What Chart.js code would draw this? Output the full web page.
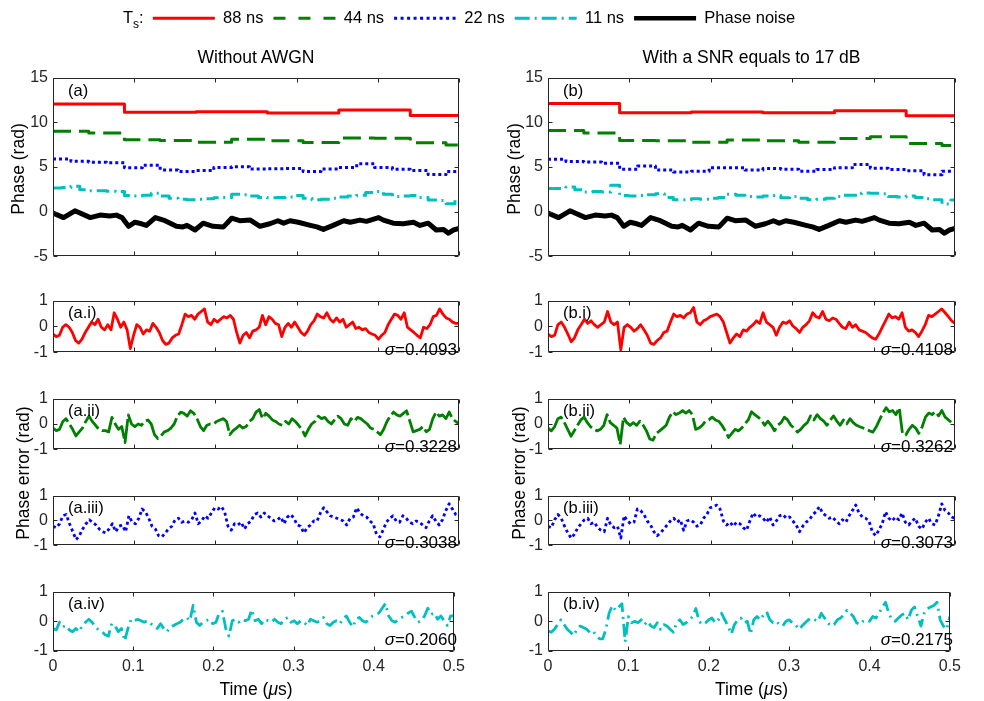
<!DOCTYPE html>
<html><head><meta charset="utf-8">
<script src="https://cdn.jsdelivr.net/npm/chart.js"></script>
<style>
html,body{margin:0;padding:0;background:#fff}
#fig{position:relative;width:984px;height:701px;overflow:hidden;font-family:'Liberation Sans',Arial,sans-serif;color:#262626}
#fig canvas{position:absolute}
.t{position:absolute;white-space:nowrap;line-height:1}
.c{transform:translate(-50%,-50%)}
.rot{transform:translate(-50%,-50%) rotate(-90deg)}
</style></head><body><div id="fig"></div>
<script>
// ---------------- DATA ----------------
const symbolPeriods = [0.088, 0.044, 0.022, 0.011]; // µs  (88, 44, 22, 11 ns)
const legendLabels = ['88 ns', '44 ns', '22 ns', '11 ns', 'Phase noise'];
const xTicksStep = 0.1;

// (a) / (b) staircase estimates, one value per symbol period
const redA = [12.05, 11.12, 11.17, 11.05, 11.37, 10.75];
const redB = [12.1, 11.07, 11.14, 11.07, 11.3, 10.72];
const greenA = [9.0, 8.8, 8.04, 7.97, 7.77, 8.11, 7.94, 7.73, 8.25, 8.22, 7.7, 7.45];
const greenB = [9.07, 8.79, 7.97, 7.93, 7.76, 8.03, 7.93, 7.76, 8.2, 8.38, 7.62, 7.41];
const blueA = [5.89,5.64,5.54,5.47,4.91,5.19,4.67,4.5,4.6,4.95,5.02,4.77,4.81,4.84,4.5,4.77,4.95,5.37,4.95,4.74,4.6,4.15,4.5];
const blueB = [5.86,5.62,5.55,5.41,4.76,5.1,4.66,4.45,4.52,4.93,4.93,4.66,4.83,4.76,4.52,4.72,4.93,5.28,4.86,4.72,4.59,4.14,4.52];
const cyanA = [2.65,2.7,2.85,2.45,2.35,2.35,2.3,2.25,1.8,1.75,1.85,2.05,1.75,1.5,1.4,1.35,1.4,1.45,1.55,1.6,1.95,1.9,1.75,1.6,1.55,1.6,1.65,1.8,1.5,1.35,1.4,1.5,1.65,1.75,1.85,2.15,2.25,1.95,1.7,1.75,1.8,1.6,1.3,1.25,0.9,1.35];
const cyanB = [2.6,2.6,2.75,2.45,2.2,2.25,2.2,2.95,1.8,1.75,1.8,1.9,2.0,1.6,1.35,1.35,1.45,1.4,1.5,1.6,1.95,1.85,1.7,1.65,1.75,1.8,1.55,1.7,1.5,1.35,1.4,1.5,1.7,1.85,1.85,2.1,2.05,2.0,1.7,1.65,1.75,1.6,1.45,1.35,0.85,1.3];

// phase noise (same realisation in both columns)
const noiseT = [0,0.013,0.027,0.046,0.058,0.070,0.078,0.085,0.093,0.101,0.109,0.115,0.126,0.138,0.152,0.160,0.165,0.175,0.185,0.197,0.210,0.220,0.230,0.243,0.255,0.267,0.277,0.284,0.292,0.302,0.317,0.325,0.333,0.345,0.358,0.366,0.378,0.386,0.401,0.407,0.419,0.431,0.444,0.452,0.462,0.472,0.481,0.487,0.493,0.5];
const noiseV = [-0.14,-0.66,0.10,-0.66,-0.38,-0.49,-0.38,-0.66,-1.63,-1.18,-1.35,-1.53,-0.66,-1.01,-1.63,-1.70,-1.53,-2.05,-1.28,-1.63,-1.70,-0.73,-1.01,-0.94,-1.63,-1.35,-1.01,-1.28,-1.01,-1.18,-1.53,-1.70,-1.98,-1.53,-1.01,-1.18,-0.94,-1.08,-0.66,-0.94,-1.28,-1.35,-1.18,-1.53,-1.28,-2.05,-1.98,-2.40,-2.05,-1.88];

// phase errors, samples evenly spread over 0 .. 0.5 µs
const errA1 = [-0.29,-0.39,-0.34,-0.03,0.07,-0.03,-0.23,-0.54,-0.64,-0.49,-0.23,-0.03,0.17,0.07,0.28,-0.03,-0.13,0.07,-0.13,0.53,0.28,-0.03,0.17,-0.13,-0.85,-0.34,0.07,-0.03,-0.29,-0.13,-0.18,0.12,-0.03,-0.23,-0.54,-0.69,-0.64,-0.44,-0.34,-0.29,0.07,0.48,0.38,0.43,0.28,0.48,0.58,0.68,0.17,0.07,0.28,0.17,0.28,0.38,0.33,0.43,0.28,-0.23,-0.64,-0.34,-0.23,-0.44,-0.18,-0.13,-0.03,0.43,0.07,0.38,0.28,0.12,0.07,-0.39,-0.03,0.12,-0.03,0.17,-0.03,-0.23,-0.34,-0.18,0.07,0.22,0.48,0.38,0.33,0.53,0.28,0.17,0.33,0.17,0.28,-0.03,0.07,0.17,-0.08,-0.03,-0.13,-0.08,-0.23,-0.29,-0.34,-0.49,-0.34,-0.23,0.07,0.28,0.48,0.43,0.28,0.53,-0.03,-0.13,-0.23,-0.34,-0.44,-0.03,-0.08,0.07,0.38,0.43,0.68,0.48,0.33,0.28,0.17,0.12,0.12];
const errA2 = [-0.16,-0.26,-0.21,0.10,0.21,0.00,-0.21,-0.47,-0.31,-0.16,0.10,0.31,0.10,-0.05,-0.21,-0.26,-0.26,-0.31,0.26,0.00,-0.21,-0.10,-0.73,0.36,0.00,-0.10,0.00,-0.05,0.10,0.16,0.00,-0.42,-0.57,-0.47,-0.31,-0.26,-0.16,0.00,0.31,0.47,0.42,0.31,0.52,0.42,0.21,-0.10,-0.26,-0.05,0.00,0.00,0.10,0.16,0.21,0.10,-0.42,-0.26,-0.16,-0.05,-0.16,-0.10,0.10,0.21,0.47,0.57,0.21,0.42,0.31,0.16,0.10,0.00,-0.05,0.10,0.00,0.21,0.10,-0.05,-0.21,-0.47,-0.21,0.00,0.10,0.31,0.21,0.26,0.10,0.00,0.16,0.31,0.21,0.00,-0.05,0.21,0.10,0.26,0.21,0.10,0.00,-0.16,-0.21,-0.31,-0.42,-0.21,0.10,0.31,0.47,0.36,0.31,0.42,0.52,0.10,-0.31,-0.26,-0.21,-0.10,-0.31,-0.21,0.21,0.47,0.31,0.36,0.21,0.47,0.21,0.10,0.00];
const errA3 = [-0.23,-0.29,-0.13,0.19,0.24,-0.13,-0.45,-0.77,-0.61,-0.34,-0.13,0.03,-0.07,-0.18,-0.34,-0.45,-0.50,-0.34,-0.13,-0.45,-0.23,-0.18,-0.45,0.19,-0.07,-0.13,0.09,0.46,0.35,0.09,-0.23,-0.34,-0.61,-0.66,-0.50,-0.34,-0.23,0.03,0.09,-0.07,-0.02,-0.07,0.03,0.30,-0.13,-0.02,0.19,0.09,0.30,0.51,0.46,0.56,0.35,-0.23,-0.39,-0.13,-0.18,-0.07,-0.34,-0.13,-0.02,0.24,0.30,0.14,0.30,0.19,0.09,-0.02,0.03,0.14,-0.13,0.14,0.24,0.09,-0.18,-0.23,-0.50,-0.29,-0.18,-0.02,-0.02,0.30,0.51,0.35,0.19,0.14,0.09,0.03,-0.02,-0.18,0.09,0.14,0.51,0.30,0.19,0.14,-0.02,-0.13,-0.55,-0.66,-0.39,-0.07,0.09,0.19,-0.02,-0.07,0.19,0.09,-0.07,-0.13,-0.02,-0.07,-0.18,-0.29,-0.02,0.19,-0.02,-0.18,0.03,0.40,0.67,0.46,0.24,0.14];
const errA4 = [-0.24,-0.29,-0.03,-0.19,-0.14,-0.29,-0.35,-0.24,-0.35,-0.14,-0.03,0.07,-0.03,-0.19,-0.29,-0.35,-0.45,-0.50,-0.08,-0.14,-0.35,-0.24,-0.66,-0.24,0.07,0.02,0.07,0.02,-0.03,0.02,-0.08,-0.14,-0.24,-0.08,-0.24,-0.35,-0.19,-0.14,-0.08,-0.03,0.07,0.13,0.02,0.54,-0.03,-0.14,-0.03,0.02,0.07,-0.08,-0.03,0.28,0.34,-0.24,-0.50,0.02,0.07,-0.03,0.07,0.02,0.07,0.39,0.02,0.07,-0.08,0.07,0.02,-0.03,0.07,-0.03,-0.08,0.07,0.13,-0.03,0.02,-0.08,0.02,-0.03,-0.14,0.07,0.02,-0.03,0.02,0.13,-0.08,-0.14,-0.03,0.02,-0.08,0.07,0.18,-0.03,-0.19,0.07,0.13,0.02,-0.03,0.07,0.18,0.23,0.28,0.44,0.60,0.18,0.02,-0.03,0.07,0.13,0.18,0.28,0.34,0.13,-0.03,0.02,0.18,0.44,0.23,0.28,0.07,0.18,0.02,-0.14,0.18,0.18];
const errB1 = [-0.29,-0.39,-0.34,0.07,0.17,-0.03,-0.29,-0.59,-0.44,-0.13,0.07,0.28,0.12,0.22,0.07,-0.03,0.07,0.17,0.58,0.17,0.07,0.17,-0.90,-0.03,0.07,-0.03,-0.18,-0.08,0.07,-0.13,-0.34,-0.64,-0.69,-0.54,-0.44,-0.23,-0.18,0.17,0.48,0.38,0.43,0.33,0.48,0.53,0.73,0.17,0.07,0.22,0.28,0.38,0.43,0.48,0.38,0.17,-0.23,-0.64,-0.44,-0.29,-0.39,-0.13,-0.18,-0.03,0.07,0.22,0.12,0.53,0.17,0.07,-0.03,-0.34,-0.03,0.17,0.12,0.22,0.02,-0.08,-0.23,-0.03,0.07,0.22,0.53,0.38,0.33,0.58,0.28,0.22,0.33,0.28,0.12,-0.03,-0.08,0.17,-0.03,0.07,-0.13,-0.18,-0.23,-0.34,-0.44,-0.49,-0.29,-0.03,0.22,0.48,0.33,0.38,0.28,0.53,-0.03,-0.18,-0.13,-0.23,-0.39,-0.18,0.07,0.43,0.38,0.48,0.58,0.68,0.53,0.38,0.22,0.12];
const errB2 = [-0.16,-0.27,-0.11,0.21,0.27,0.05,-0.21,-0.48,-0.27,-0.05,0.16,0.27,0.05,-0.11,-0.21,-0.27,-0.21,-0.05,0.37,0.05,-0.05,-0.16,-0.80,0.27,0.05,-0.05,0.05,-0.05,0.11,-0.05,-0.27,-0.59,-0.64,-0.37,-0.27,-0.16,-0.05,0.27,0.48,0.37,0.43,0.53,0.43,0.53,0.37,-0.21,-0.16,-0.05,0.11,0.16,0.27,0.16,0.11,-0.05,-0.27,-0.53,-0.37,-0.21,-0.27,-0.16,0.00,0.16,0.48,0.37,0.27,0.16,-0.05,0.11,-0.05,-0.27,-0.05,0.05,0.27,0.16,-0.05,-0.16,-0.32,-0.21,-0.05,0.05,0.32,0.16,0.37,0.21,0.11,-0.05,0.16,0.32,0.11,-0.05,0.16,0.00,0.21,0.05,-0.05,-0.11,-0.16,-0.21,-0.27,-0.32,-0.11,0.16,0.43,0.64,0.48,0.53,0.37,0.64,-0.37,-0.43,-0.21,-0.05,-0.16,-0.37,-0.11,0.27,0.43,0.37,0.48,0.32,0.53,0.27,0.16,0.05,-0.05];
const errB3 = [-0.23,-0.29,0.03,0.24,0.09,-0.23,-0.50,-0.71,-0.55,-0.29,-0.13,0.03,0.09,-0.13,-0.07,-0.29,-0.39,-0.45,0.09,-0.18,-0.29,-0.23,-0.71,0.19,-0.02,-0.13,-0.07,0.46,0.40,0.24,-0.02,-0.18,-0.45,-0.61,-0.50,-0.34,-0.18,-0.02,0.09,-0.07,0.03,-0.39,-0.02,0.03,-0.07,-0.23,-0.18,0.09,0.24,0.51,0.56,0.62,0.46,-0.02,-0.18,-0.07,-0.23,-0.07,-0.13,-0.29,-0.39,-0.02,0.30,0.14,0.19,0.09,-0.07,0.14,-0.18,-0.02,0.19,0.24,0.09,0.14,-0.02,-0.18,-0.45,-0.23,-0.07,0.03,0.24,0.35,0.56,0.30,0.19,0.09,0.14,-0.02,-0.13,0.03,-0.07,0.19,0.40,0.62,0.30,0.14,0.09,-0.02,-0.45,-0.61,-0.39,-0.13,0.35,0.09,-0.02,0.14,0.03,0.30,-0.07,-0.18,-0.02,0.09,-0.23,-0.34,-0.07,0.09,-0.13,-0.18,0.19,0.67,0.40,0.30,0.14,0.09];
const errB4 = [-0.32,-0.37,-0.27,-0.11,0.05,-0.11,-0.27,-0.37,-0.48,-0.27,-0.16,-0.21,-0.27,-0.37,-0.32,-0.48,-0.59,-0.59,-0.27,0.27,0.53,0.37,0.48,0.59,-0.69,0.16,-0.05,0.00,-0.05,0.05,-0.11,0.00,-0.16,-0.21,-0.05,-0.27,-0.11,-0.16,-0.27,-0.37,-0.05,0.05,-0.11,-0.05,0.05,0.16,0.43,0.00,-0.11,-0.05,0.05,0.11,-0.05,0.05,0.27,0.05,-0.16,-0.43,-0.11,0.05,0.11,-0.05,0.00,-0.43,0.05,0.16,0.05,0.21,0.32,0.05,-0.05,0.00,-0.11,-0.16,0.00,0.05,-0.05,-0.11,-0.27,-0.16,-0.05,0.05,0.11,0.05,0.00,0.27,0.11,-0.05,-0.16,-0.11,0.05,0.11,0.21,0.37,0.27,0.16,-0.05,-0.11,0.00,0.05,0.00,0.16,0.11,0.27,0.48,0.64,0.27,0.05,0.00,0.11,0.21,0.27,0.05,0.37,0.48,0.16,-0.16,0.27,0.43,0.48,0.53,0.64,0.05,-0.16,-0.27,0.16];

const sigmaA = ['0.4093', '0.3228', '0.3038', '0.2060'];
const sigmaB = ['0.4108', '0.3262', '0.3073', '0.2175'];

// ---------------- STYLE ----------------
const COL = {red:'#ff0000', green:'#008000', blue:'#0000ff', cyan:'#00bfbf', black:'#000000', axis:'#262626'};
const FONT = "'Liberation Sans', Arial, sans-serif";
Chart.defaults.font.family = FONT;
Chart.defaults.color = COL.axis;

const fig = document.getElementById('fig');
const colL = {l:53, w:406}, colR = {l:548, w:407};
const rowTop = {t:73, h:192};
const rowsSmall = [{t:296,h:65},{t:394,h:64},{t:491,h:63},{t:587,h:64}];

function stepData(Ts, vals){
  const pts = vals.map((v,k)=>({x:k*Ts, y:v}));
  pts.push({x:0.5, y:vals[vals.length-1]});
  return pts;
}
function evenData(vals){ return vals.map((v,i)=>({x:i*0.5/(vals.length-1), y:v})); }
function pairData(ts, vs){ return ts.map((t,i)=>({x:t, y:vs[i]})); }

const framePlugin = {
  id:'frame',
  afterDatasetsDraw(chart){
    const {ctx, chartArea:a} = chart; const xs = chart.scales.x, ys = chart.scales.y;
    const L=Math.round(a.left)+0.5, R=Math.round(a.right)-0.5, T=Math.round(a.top)+0.5, B=Math.round(a.bottom)-0.5;
    ctx.save(); ctx.strokeStyle=COL.axis; ctx.lineWidth=1; ctx.setLineDash([]);
    ctx.beginPath(); ctx.rect(L,T,R-L,B-T);
    xs.ticks.forEach(t=>{const p=Math.round(xs.getPixelForValue(t.value))+0.5; ctx.moveTo(p,B); ctx.lineTo(p,B-4); ctx.moveTo(p,T); ctx.lineTo(p,T+4);});
    ys.ticks.forEach(t=>{const p=Math.round(ys.getPixelForValue(t.value))+0.5; ctx.moveTo(L,p); ctx.lineTo(L+4,p); ctx.moveTo(R,p); ctx.lineTo(R-4,p);});
    ctx.stroke(); ctx.restore();
  }
};

function lineDs(data, color, width, dash, stepped){
  return {data, borderColor:color, backgroundColor:color, borderWidth:width, borderDash:dash||[], pointRadius:0,
          fill:false, tension:0, stepped:stepped||false, borderJoinStyle:'round', borderCapStyle:'butt'};
}

function plot(col, row, datasets, yMin, yMax, yStep, showX){
  const padL=45, padT=10, padR=12, xH = showX?34:6;
  const cv = document.createElement('canvas');
  const W = col.w+padL+padR, H = row.h+padT+xH;
  cv.width=W; cv.height=H; cv.style.width=W+'px'; cv.style.height=H+'px';
  cv.style.left=(col.l-padL)+'px'; cv.style.top=(row.t-padT)+'px';
  fig.appendChild(cv);
  new Chart(cv, {
    type:'line',
    data:{datasets},
    options:{responsive:false, animation:false, devicePixelRatio:1,
      layout:{padding:{left:0,top:padT,right:padR,bottom:0}},
      plugins:{legend:{display:false}, tooltip:{enabled:false}},
      scales:{
        x:{type:'linear', min:0, max:0.5, grid:{display:false, drawTicks:false}, border:{display:false},
           ticks:{stepSize:xTicksStep, display:showX, font:{size:16}, color:COL.axis, padding:6, maxRotation:0},
           afterFit:s=>{s.height=xH;}},
        y:{type:'linear', min:yMin, max:yMax, grid:{display:false, drawTicks:false}, border:{display:false},
           ticks:{stepSize:yStep, font:{size:16}, color:COL.axis, padding:5},
           afterFit:s=>{s.width=padL;}}
      }},
    plugins:[framePlugin]
  });
}

function topSets(r,g,b,c){
  return [
    lineDs(stepData(symbolPeriods[0], r), COL.red, 3, [], 'before'),
    lineDs(stepData(symbolPeriods[1], g), COL.green, 3, [18,8], 'before'),
    lineDs(stepData(symbolPeriods[2], b), COL.blue, 3, [3,3], 'before'),
    lineDs(stepData(symbolPeriods[3], c), COL.cyan, 3, [13,5,2,5], 'before'),
    lineDs(pairData(noiseT, noiseV), COL.black, 5, [])
  ];
}
plot(colL, rowTop, topSets(redA,greenA,blueA,cyanA), -5, 15, 5, false);
plot(colR, rowTop, topSets(redB,greenB,blueB,cyanB), -5, 15, 5, false);

const errStyles = [[COL.red,[]],[COL.green,[24,4]],[COL.blue,[3,3]],[COL.cyan,[13,5,2,5]]];
[[colL,[errA1,errA2,errA3,errA4]],[colR,[errB1,errB2,errB3,errB4]]].forEach(([col,errs])=>{
  errs.forEach((e,i)=>{
    plot(col, rowsSmall[i], [lineDs(evenData(e), errStyles[i][0], 2.8, errStyles[i][1])], -1, 1, 1, i===3);
  });
});

// legend (Chart.js legend only)
(function(){
  const cv=document.createElement('canvas'); const W=700,H=90;
  cv.width=W; cv.height=H; cv.style.width=W+'px'; cv.style.height=H+'px'; cv.style.left='124px'; cv.style.top='0px';
  fig.appendChild(cv);
  const lg = [
    {label:legendLabels[0], data:[], borderColor:COL.red, borderWidth:3, borderDash:[]},
    {label:legendLabels[1], data:[], borderColor:COL.green, borderWidth:3, borderDash:[12,13]},
    {label:legendLabels[2], data:[], borderColor:COL.blue, borderWidth:3, borderDash:[3,3.5]},
    {label:legendLabels[3], data:[], borderColor:COL.cyan, borderWidth:3, borderDash:[15,5,2,5]},
    {label:legendLabels[4], data:[], borderColor:COL.black, borderWidth:4.5, borderDash:[]}
  ];
  new Chart(cv,{type:'line', data:{datasets:lg},
    options:{responsive:false, animation:false, devicePixelRatio:1, layout:{padding:0},
      scales:{x:{display:false},y:{display:false}},
      plugins:{tooltip:{enabled:false}, legend:{display:true, position:'top', align:'center',
        labels:{usePointStyle:true, pointStyle:'line', pointStyleWidth:62, boxHeight:16, color:'#000', font:{size:16.5}, padding:10,
          generateLabels:(chart)=>chart.data.datasets.map((ds,i)=>({text:ds.label, fillStyle:ds.borderColor, strokeStyle:ds.borderColor,
            lineWidth:ds.borderWidth, lineDash:ds.borderDash, lineCap:'butt', lineJoin:'miter', pointStyle:'line', hidden:false,
            datasetIndex:i, fontColor:'#000'}))}}}}});
})();

// ---------------- TEXT ----------------
function txt(html, x, y, size, cls, extra){
  const d=document.createElement('div'); d.className='t '+(cls||''); d.innerHTML=html;
  d.style.left=x+'px'; d.style.top=y+'px'; d.style.fontSize=size+'px';
  if(extra) Object.assign(d.style, extra);
  fig.appendChild(d); return d;
}
txt('T<sub style="font-size:12px;vertical-align:-5px">s</sub>:', 123, 9, 16.5, '', {color:'#000'});
txt('Without AWGN', colL.l+colL.w/2, 58, 17.5, 'c', {color:'#000'});
txt('With a SNR equals to 17 dB', colR.l+colR.w/2, 58, 17.5, 'c', {color:'#000'});
txt('Phase (rad)', 19, 169, 17.5, 'rot', {color:'#000'});
txt('Phase (rad)', 515, 169, 17.5, 'rot', {color:'#000'});
txt('Phase error (rad)', 24, 473, 17.5, 'rot', {color:'#000'});
txt('Phase error (rad)', 520, 473, 17.5, 'rot', {color:'#000'});
txt('Time (<i>μ</i>s)', colL.l+colL.w/2, 690, 17.5, 'c', {color:'#000'});
txt('Time (<i>μ</i>s)', colR.l+colR.w/2, 690, 17.5, 'c', {color:'#000'});
txt('(a)', colL.l+15, rowTop.t+17-8, 16.5, '', {color:'#000'});
txt('(b)', colR.l+15, rowTop.t+17-8, 16.5, '', {color:'#000'});
const roman=['i','ii','iii','iv'];
rowsSmall.forEach((r,i)=>{
  txt('(a.'+roman[i]+')', colL.l+15, r.t+16-8, 16.5, '', {color:'#000'});
  txt('(b.'+roman[i]+')', colR.l+15, r.t+16-8, 16.5, '', {color:'#000'});
  const yb = r.t+r.h-11-9;
  txt('<i>σ</i>='+sigmaA[i], 0, yb, 17, '', {color:'#000', left:'auto', right:(984-(colL.l+colL.w-2))+'px'});
  txt('<i>σ</i>='+sigmaB[i], 0, yb, 17, '', {color:'#000', left:'auto', right:(984-(colR.l+colR.w-2))+'px'});
});
</script></body></html>
